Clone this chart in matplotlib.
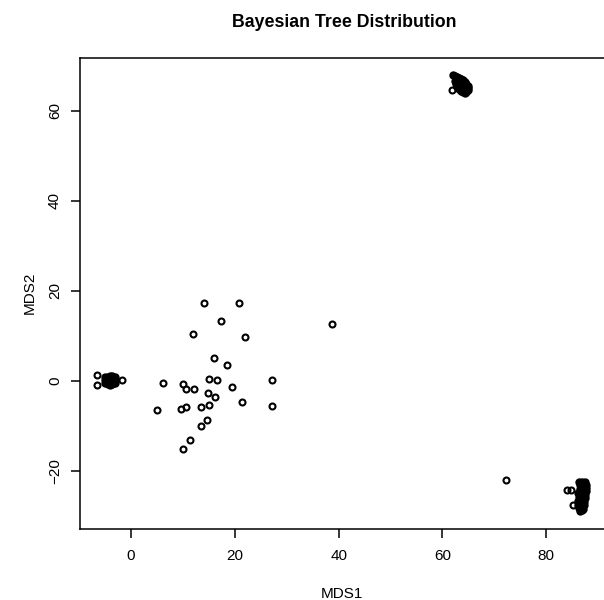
import matplotlib
matplotlib.use("Agg")
import matplotlib.pyplot as plt

plt.rcParams['font.family'] = ['Liberation Sans', 'DejaVu Sans']

# scattered trees (open circles)
mds1_open = [14.1, 20.8, 17.3, 12.0, 21.9, 38.7, 16.0, 18.5, 6.2, 10.1,
             10.6, 12.1, 15.0, 16.6, 19.4, 27.1, 14.9, 16.1, 5.0, 9.6,
             10.6, 13.5, 15.0, 21.4, 27.1, 14.7, 13.5, 11.3, 10.1, 72.2,
             -6.6, -6.5, -1.8, 61.8, 84.0, 84.8, 85.2]
mds2_open = [17.3, 17.3, 13.3, 10.4, 9.8, 12.6, 5.0, 3.6, -0.4, -0.7,
             -1.8, -1.8, 0.5, 0.2, -1.3, 0.2, -2.7, -3.6, -6.4, -6.2,
             -5.7, -5.7, -5.4, -4.7, -5.6, -8.7, -10.0, -13.2, -15.2, -22.0,
             1.3, -1.0, 0.2, 64.7, -24.2, -24.2, -27.6]

# heavily overplotted trees (appear as solid blobs)
mds1_dense = [-5.0, -4.1, -3.1, -5.0, -4.1, -3.1, -4.5, -3.5,
              -4.5, -3.6, -4.5, -3.6, -5.0, -3.1, -4.1,
              62.0, 62.8, 63.6, 64.3, 64.9, 64.9, 64.3, 63.6, 62.8, 62.4, 63.6,
              62.4, 63.2, 64.0, 64.6, 64.9, 64.6, 63.9, 63.2, 62.6, 63.0, 63.6,
              64.2, 63.8, 64.2,
              86.3, 87.5, 87.7, 87.5, 87.3, 87.1, 86.5, 86.1, 86.3, 86.5,
              86.9, 87.6, 87.6, 87.4, 87.2, 86.8, 86.3, 86.1, 86.2, 86.4,
              86.9, 86.9, 86.8, 86.6]
mds2_dense = [0.9, 1.1, 0.9, -0.4, -0.9, -0.4, 0.2, 0.2,
              0.9, 1.0, -0.6, -0.7, 0.3, 0.3, 0.2,
              68.0, 67.6, 67.2, 66.4, 65.6, 64.7, 64.0, 64.4, 65.3, 66.7, 65.8,
              67.8, 67.4, 66.8, 66.0, 65.2, 64.3, 64.2, 64.9, 66.0, 66.3, 66.6,
              65.5, 65.0, 64.7,
              -22.4, -22.4, -23.8, -25.3, -26.9, -28.4, -28.9, -27.6, -25.8, -24.0,
              -22.4, -23.1, -24.5, -26.1, -27.6, -28.7, -28.3, -26.7, -24.9, -23.2,
              -23.6, -25.2, -26.8, -27.9]

x_ticks = [0, 20, 40, 60, 80]
y_ticks = [-20, 0, 20, 40, 60]


def lab(v):
    return '\u2212' + str(-v) if v < 0 else str(v)


W, H = 604, 600
fig = plt.figure(figsize=(W / 100, H / 100), dpi=100)
ax = fig.add_axes([80 / W, 71 / H, (606 - 80) / W, (529 - 58.3) / H])

ax.plot(mds1_dense, mds2_dense, 'o', ms=4.5, mfc='black', mec='black', mew=1.5)
ax.plot(mds1_open, mds2_open, 'o', ms=4.3, mfc='none', mec='black', mew=1.5)

ax.set_xlim(-9.83, 91.5)
ax.set_ylim(-32.9, 71.7)
ax.set_xticks(x_ticks)
ax.set_yticks(y_ticks)
ax.set_yticklabels([lab(v) for v in y_ticks], rotation=90, va='center')
ax.set_xticklabels([lab(v) for v in x_ticks])

for s in ax.spines.values():
    s.set_linewidth(1.1)
ax.tick_params(axis='both', length=6.5, width=1.1, labelsize=11)
ax.tick_params(axis='x', pad=8.2)
ax.tick_params(axis='y', pad=6.5)

fig.text(344 / W, 1 - 26.7 / H, 'Bayesian Tree Distribution', ha='center',
         va='baseline', fontsize=12.8, fontweight='bold')
fig.text(342 / W, 1 - 598 / H, 'MDS1', ha='center', va='baseline', fontsize=11)
fig.text(30 / W, 1 - 293 / H, 'MDS2', ha='center', va='center', rotation=90,
         fontsize=11)

fig.savefig('out.png', dpi=100)
